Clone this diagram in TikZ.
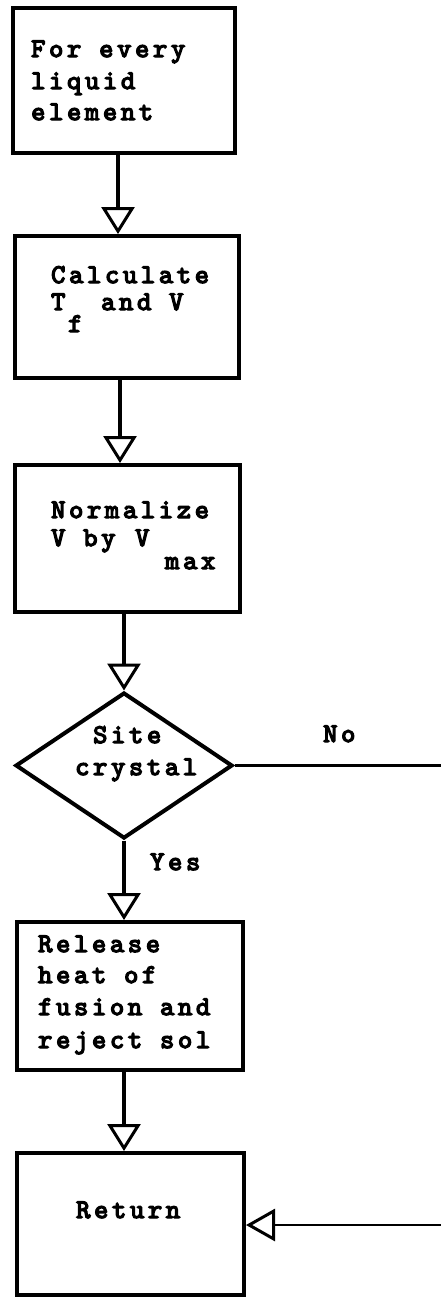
\documentclass[tikz,border=0pt]{standalone}
\usepackage{fontspec}
\usetikzlibrary{shapes.geometric,arrows.meta}
% typewriter face used for every label
\newfontfamily\tw{lmmono10-regular.otf}[LetterSpace=14,FakeBold=5]
\tikzset{
  box/.style={draw, line width=4pt, rectangle, inner sep=0pt},
  decision/.style={draw, line width=4pt, diamond, inner sep=0pt},
  txt/.style={anchor=base west, inner sep=0pt, font=\tw\fontsize{27pt}{30pt}\selectfont},
  flow/.style={line width=4pt, -{Triangle[open, length=27pt, width=33pt, line width=3pt]}},
  side/.style={line width=2.5pt},
  sidein/.style={line width=2.5pt, -{Triangle[open, length=29pt, width=32pt, line width=3pt]}}
}
\begin{document}
\begin{tikzpicture}[x=1pt, y=-1pt]
\useasboundingbox (0,0) rectangle (441,1299);

% process boxes and the decision
\node[box, minimum width=222pt, minimum height=145pt] (b1) at (124,80.5) {};
\node[box, minimum width=224pt, minimum height=142pt] (b2) at (127,307) {};
\node[box, minimum width=225pt, minimum height=147pt] (b3) at (127.5,538.5) {};
\node[decision, minimum width=217pt, minimum height=146pt] (d) at (124,765.5) {};
\node[box, minimum width=226pt, minimum height=148pt] (b4) at (130,996) {};
\node[box, minimum width=227pt, minimum height=142pt] (b5) at (130.5,1224) {};

% labels
\node[txt] (t1a) at (31,57) {For every};
\node[txt] (t1b) at (31,89) {liquid};
\node[txt] (t1c) at (31,120) {element};

\node[txt] (t2a) at (51,283) {Calculate};
\node[txt] (t2b) at (51,310) {T};
\node[txt] (t2s) at (68,332) {f};
\node[txt] (t2c) at (101,310) {and V};

\node[txt] (t3a) at (51,518) {Normalize};
\node[txt] (t3b) at (51,546) {V by};
\node[txt] (t3c) at (135,546) {V};
\node[txt] (t3s) at (165,569) {max};

\node[txt] (tda) at (93,743) {Site};
\node[txt] (tdb) at (75,775) {crystal};

\node[txt] (tno) at (323,742) {No};
\node[txt] (tyes) at (150,870) {Yes};

\node[txt] (t4a) at (38,952) {Release};
\node[txt] (t4b) at (38,983) {heat of};
\node[txt] (t4c) at (38,1015) {fusion and};
\node[txt] (t4d) at (38,1048) {reject sol};

\node[txt] (t5) at (76,1218) {Return};

% free ends of the side branch
\coordinate (noend) at (441,765.5);
\coordinate (retin) at (441,1225);

% connectors
\draw[flow] ([xshift=-6pt]b1.south) -- ([xshift=-6pt]b1.south |- b2.north);
\draw[flow] ([xshift=-7pt]b2.south) -- ([xshift=-7pt]b2.south |- b3.north);
\draw[flow] (d.north |- b3.south) -- (d.north);
\draw[flow] (d.south) -- (d.south |- b4.north);
\draw[flow] ([xshift=-6pt]b4.south) -- ([xshift=-6pt]b4.south |- b5.north);
\draw[side] (d.east) -- (noend);
\draw[sidein] (retin) -- (retin -| b5.east);
\end{tikzpicture}
\end{document}
